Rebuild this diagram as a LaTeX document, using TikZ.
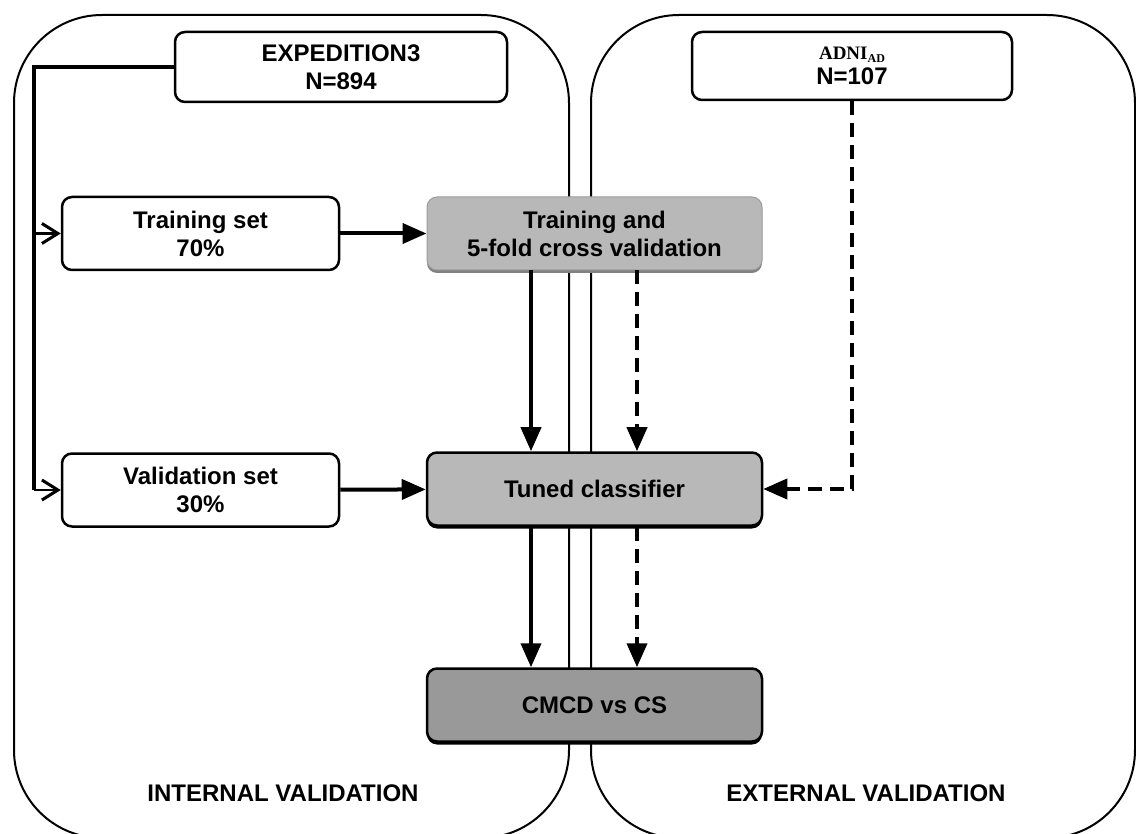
\documentclass[tikz,border=0pt]{standalone}
\usepackage{fontspec}
\setmainfont{Liberation Sans}
\newfontfamily\adnifont{Liberation Serif}
\usetikzlibrary{arrows.meta}
\usetikzlibrary{shadows}

\definecolor{lightbox}{HTML}{B8B8B8}
\definecolor{darkbox}{HTML}{999999}
\newcommand{\boxfont}{\fontsize{24}{28}\selectfont\bfseries}

\tikzset{
	panel/.style={draw,line width=2pt,rounded corners=88pt},
	setbox/.style={draw,line width=2.5pt,rounded corners=10pt,fill=white,align=center,
		minimum width=277pt,minimum height=73pt,font=\boxfont},
	stepbox/.style={setbox,fill=lightbox,minimum width=335pt},
	paneltitle/.style={font=\boxfont},
	flowarrow/.style={line width=4pt,-{Triangle[length=24pt,width=20pt]}},
	dasharrow/.style={flowarrow,dash pattern=on 14pt off 8pt},
	branch/.style={line width=2.5pt,-{Straight Barb[length=16pt,width=20pt,line width=3pt]}}
}

\begin{document}
\begin{tikzpicture}[x=1pt,y=-1pt]
	\useasboundingbox (0,0) rectangle (1136,834);
	% the two validation panels
	\draw[panel] (14,15) rectangle (569,838);
	\draw[panel] (591,15) rectangle (1135,838);
	\node[paneltitle] (intlabel) at (283,793) {INTERNAL VALIDATION};
	\node[paneltitle] (extlabel) at (866,793) {EXTERNAL VALIDATION};

	% data sets
	\node[setbox,minimum width=332pt,minimum height=70pt] (expd) at (341,67) {EXPEDITION3\\N=894};
	\node[setbox,minimum width=320pt,minimum height=68pt,font=\fontsize{24}{25}\selectfont\bfseries] (adni) at (852,66)
		{{\adnifont\fontsize{19}{20}\selectfont ADNI}\raisebox{-3pt}{\adnifont\fontsize{12}{12}\selectfont AD}\\N=107};
	\node[setbox] (trainset) at (200.5,233.5) {Training set\\70\%};
	\node[setbox] (validset) at (200.5,490) {Validation set\\30\%};

	% model steps
	\node[stepbox,draw=lightbox!85!black,line width=1pt,general shadow={fill=lightbox!70!black,shadow yshift=-3pt}] (cvbox) at (594.5,233.5) {Training and\\5-fold cross validation};
	\node[stepbox,general shadow={fill=black,shadow yshift=-3pt}] (tuned) at (594.5,489) {Tuned classifier};
	\node[stepbox,fill=darkbox,general shadow={fill=black,shadow yshift=-3pt}] (result) at (594.5,705) {CMCD vs CS};

	% split of EXPEDITION3
	\draw[line width=4.5pt] (expd.west) -| ([xshift=-27pt]validset.west);
	\draw[branch] ([xshift=-27pt]trainset.west) -- (trainset.west);
	\draw[branch] ([xshift=-27pt]validset.west) -- (validset.west);

	% internal flow
	\draw[flowarrow] (trainset) -- (cvbox);
	\draw[flowarrow] (validset) -- (tuned);
	\draw[flowarrow] ([xshift=-63.5pt]cvbox.south) -- ([xshift=-63.5pt]tuned.north);
	\draw[flowarrow] ([xshift=-63.5pt]tuned.south) -- ([xshift=-63.5pt]result.north);

	% external flow
	\draw[dasharrow] ([xshift=42.5pt]cvbox.south) -- ([xshift=42.5pt]tuned.north);
	\draw[dasharrow] ([xshift=42.5pt]tuned.south) -- ([xshift=42.5pt]result.north);
	\draw[dasharrow] (adni.south) |- (tuned.east);
\end{tikzpicture}
\end{document}
